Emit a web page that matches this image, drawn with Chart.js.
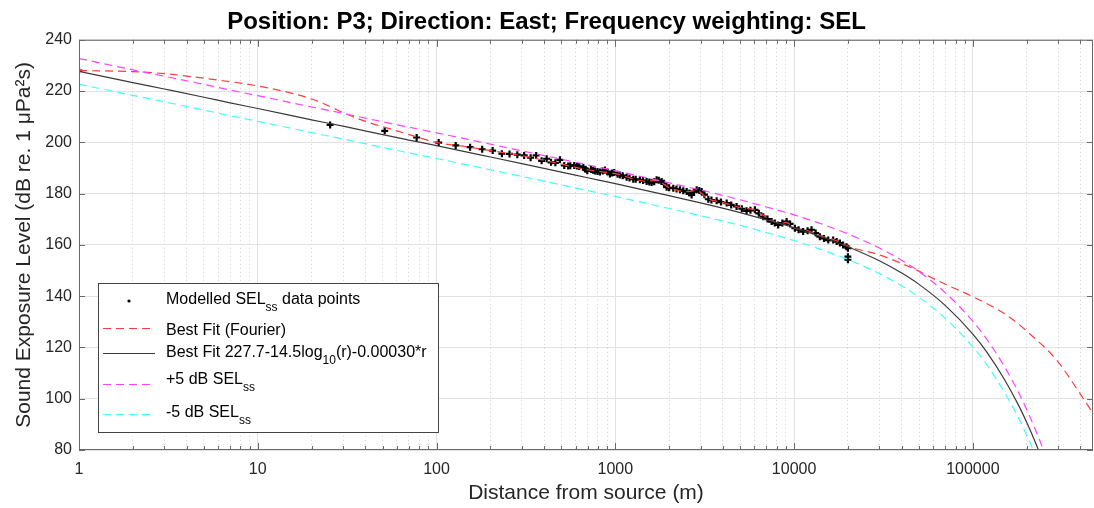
<!DOCTYPE html>
<html>
<head>
<meta charset="utf-8">
<script src="https://cdn.jsdelivr.net/npm/chart.js@4.4.1/dist/chart.umd.min.js"></script>
<style>
  html, body { margin: 0; padding: 0; background: #fff; overflow: hidden; }
  canvas { display: block; }
</style>
</head>
<body>
<canvas id="sel-chart" width="1094" height="508"></canvas>
<script>
// modelled SEL points (distance in m, SEL in dB)
const obsX = [1, 25.4, 51.3, 77.4, 102.8, 128, 154, 180, 206, 232, 256, 283, 309, 336, 361, 387, 413, 437, 462, 490,
  518, 545, 560, 589, 610, 628, 662, 680, 697, 731, 750, 770, 795, 820, 850, 875, 905, 933, 960, 986,
  1030, 1061, 1100, 1157, 1200, 1260, 1300, 1373, 1430, 1497, 1550, 1597, 1650, 1703, 1750, 1816, 1870,
  1937, 2000, 2110, 2200, 2300, 2400, 2507, 2600, 2673, 2750, 2851, 2950, 3040, 3150, 3313, 3450, 3689, 3900,
  4198, 4450, 4768, 5100, 5424, 5700, 6035, 6350, 6724, 7100, 7488, 7800, 8150, 8600, 9080, 9500, 10100,
  10600, 11240, 11900, 12520, 13200, 13940, 14700, 15530, 16550, 17300, 18040, 18800, 19660, 20000, 20000, 20000];
const obsY = [228.0, 206.8, 204.5, 201.9, 199.9, 198.8, 198.1, 197.3, 196.8, 195.6, 195.5, 195.2, 194.9, 194.0, 194.9, 192.8, 193.6, 192.2, 192.0, 193.2,
  191.0, 190.8, 190.9, 191.0, 190.8, 190.6, 190.2, 189.5, 188.9, 189.4, 189.1, 188.8, 188.6, 188.4, 188.8, 189.2, 188.4, 187.7, 188.0, 188.2,
  187.6, 187.3, 187.0, 186.4, 186.1, 185.6, 185.6, 185.4, 185.1, 184.7, 184.5, 184.3, 184.6, 185.4, 185.2, 184.7, 184.0,
  182.5, 182.3, 182.1, 181.8, 181.5, 181.1, 180.8, 180.2, 179.5, 180.8, 181.5, 181.2, 180.8, 179.6, 177.8, 177.5, 177.2, 176.7,
  176.3, 175.6, 175.0, 174.1, 173.3, 173.5, 173.7, 172.3, 171.0, 170.1, 169.1, 168.5, 167.8, 168.5, 169.1, 168.2, 166.5,
  165.9, 165.2, 165.5, 165.9, 164.6, 163.2, 162.5, 161.9, 161.9, 161.3, 160.7, 160.0, 159.3, 158.7, 155.4, 154.2];

// Fourier fit
const fourierX = [1, 2, 3, 5, 10, 15, 20, 25, 30, 40, 60, 100, 150, 200, 300, 500, 700, 1000, 1500, 1700, 2000, 2500, 2850,
  3300, 4000, 5000, 6000, 7500, 8500, 9000, 10000, 12000, 14000, 17000, 20000, 30000, 46000, 65000, 100000, 154000,
  217000, 294000, 397000, 470000];
const fourierY = [228.0, 227.6, 226.8, 225.0, 222.0, 219.4, 216.9, 214.2, 211.6, 208.2, 204.5, 200.0, 198.2, 196.8, 194.8, 191.5, 189.3, 187.8, 184.8, 185.2, 182.3, 180.8, 181.2,
  178.0, 176.5, 174.6, 173.6, 169.5, 168.3, 168.8, 166.6, 165.5, 163.5, 161.8, 159.5, 156.1, 150.9, 145.7, 139.8, 132.7,
  124.2, 115.1, 102.1, 94.3];

// log fit and the +/-5 dB bands
const fitX = [1, 2, 3, 5, 7, 10, 20, 30, 50, 70, 100, 200, 300, 500, 700, 1000, 2000, 3000, 5000, 7000, 10000, 15000,
  20000, 30000, 40000, 50000, 70000, 100000, 120000, 150000, 180000, 200000, 220000, 250000, 300000];
const fitMid = [227.7, 223.3, 220.8, 217.6, 215.4, 213.2, 208.8, 206.3, 203.0, 200.9, 198.7, 194.3, 191.7, 188.4, 186.2, 183.9, 179.2, 176.4, 172.6, 169.8, 166.7, 162.6,
  159.3, 153.8, 149.0, 144.6, 136.4, 125.2, 118.1, 107.6, 97.5, 90.8, 84.2, 74.4, 58.3];
const fitPlus5 = [232.7, 228.3, 225.8, 222.6, 220.4, 218.2, 213.8, 211.3, 208.0, 205.9, 203.7, 199.3, 196.7, 193.4, 191.2, 188.9, 184.2, 181.4, 177.6, 174.8, 171.7, 167.6,
  164.3, 158.8, 154.0, 149.6, 141.4, 130.2, 123.1, 112.6, 102.5, 95.8, 89.2, 79.4, 63.3];
const fitMinus5 = [222.7, 218.3, 215.8, 212.6, 210.4, 208.2, 203.8, 201.3, 198.0, 195.9, 193.7, 189.3, 186.7, 183.4, 181.2, 178.9, 174.2, 171.4, 167.6, 164.8, 161.7, 157.6,
  154.3, 148.8, 144.0, 139.6, 131.4, 120.2, 113.1, 102.6, 92.5, 85.8, 79.2, 69.4, 53.3];

const xMin = 1, xMax = 470000;
const yMin = 80, yMax = 240, yStep = 20;

const FONT = "'Liberation Sans', Arial, Helvetica, sans-serif";
const RED = '#ff3c3c', MAG = '#ff40ff', CYAN = '#40ffff', DARK = '#3a3a3a';

function pts(xs, ys) {
  return xs.map((x, i) => ({ x: x, y: ys[i] }));
}
function mantissa(v) {
  return v / Math.pow(10, Math.floor(Math.log10(v) + 1e-9));
}
function isDecade(v) {
  return Math.abs(mantissa(v) - 1) < 1e-6;
}
function isWhole(v) {
  const m = mantissa(v);
  return Math.abs(m - Math.round(m)) < 1e-6;
}

// legend rows, subscripts kept as separate pieces
const keyRows = [
  { kind: 'point', parts: [['Modelled SEL'], ['ss', 'sub'], [' data points']], base: 21, lineY: 18 },
  { kind: 'line', color: RED, dash: [8, 5], parts: [['Best Fit (Fourier)']], base: 52, lineY: 45 },
  { kind: 'line', color: DARK, dash: [], parts: [['Best Fit 227.7-14.5log'], ['10', 'sub'], ['(r)-0.00030*r']], base: 74, lineY: 70 },
  { kind: 'line', color: MAG, dash: [8, 5], parts: [['+5 dB SEL'], ['ss', 'sub']], base: 101, lineY: 101 },
  { kind: 'line', color: CYAN, dash: [8, 5], parts: [['-5 dB SEL'], ['ss', 'sub']], base: 134, lineY: 131 }
];

const frameAndKey = {
  id: 'frameAndKey',
  // let the plot run to the right edge of the canvas, like the original
  afterLayout(chart) {
    const x = chart.scales.x, a = chart.chartArea;
    const want = chart.width - 1;
    if (a.right < want) {
      x.right = want;
      x.width = want - x.left;
      x.configure();
      a.right = want;
      a.width = want - a.left;
    }
  },
  afterDraw(chart) {
    const { ctx, chartArea: a, scales: { x, y } } = chart;
    ctx.save();
    ctx.strokeStyle = '#6a6a6a';
    ctx.lineWidth = 1;
    ctx.setLineDash([]);
    // inward ticks
    ctx.beginPath();
    x.ticks.forEach(t => {
      const px = Math.round(x.getPixelForValue(t.value)) + 0.5;
      const len = isDecade(t.value) ? 7 : 4;
      ctx.moveTo(px, a.bottom); ctx.lineTo(px, a.bottom - len);
      ctx.moveTo(px, a.top); ctx.lineTo(px, a.top + len);
    });
    y.ticks.forEach(t => {
      const py = Math.round(y.getPixelForValue(t.value)) + 0.5;
      ctx.moveTo(a.left, py); ctx.lineTo(a.left + 6, py);
      ctx.moveTo(a.right, py); ctx.lineTo(a.right - 6, py);
    });
    ctx.stroke();
    ctx.strokeRect(a.left + 0.5, a.top + 0.5, a.right - a.left - 1, a.bottom - a.top - 1);

    // legend box
    const bx = a.left + 19, by = 283, bw = 340, bh = 149;
    ctx.fillStyle = '#fff';
    ctx.fillRect(bx, by, bw, bh);
    ctx.strokeStyle = '#444';
    ctx.strokeRect(bx + 0.5, by + 0.5, bw, bh);
    keyRows.forEach(r => {
      if (r.kind === 'point') {
        ctx.fillStyle = '#000';
        ctx.beginPath();
        ctx.arc(bx + 31, by + r.lineY, 1.6, 0, Math.PI * 2);
        ctx.fill();
      } else {
        ctx.strokeStyle = r.color;
        ctx.lineWidth = 1.2;
        ctx.setLineDash(r.dash);
        ctx.beginPath();
        ctx.moveTo(bx + 5, by + r.lineY + 0.5); ctx.lineTo(bx + 57, by + r.lineY + 0.5);
        ctx.stroke();
        ctx.setLineDash([]);
      }
      let tx = bx + 68;
      ctx.fillStyle = '#000';
      ctx.textBaseline = 'alphabetic';
      ctx.textAlign = 'left';
      r.parts.forEach(p => {
        const sub = p[1] === 'sub';
        ctx.font = (sub ? '12px ' : '16px ') + FONT;
        ctx.fillText(p[0], tx, by + r.base + (sub ? 7 : 0));
        tx += ctx.measureText(p[0]).width;
      });
    });
    ctx.restore();
  }
};

const chartElement = document.getElementById('sel-chart');
const selChart = new Chart(chartElement, {
  type: 'line',
  data: {
    datasets: [
      {
        label: 'Modelled SEL data points',
        data: pts(obsX, obsY),
        showLine: false,
        pointStyle: 'cross',
        pointRadius: 3.5,
        pointBorderWidth: 2.2,
        borderColor: '#000',
        backgroundColor: '#000',
        order: 5
      },
      {
        label: 'Best Fit (Fourier)',
        data: pts(fourierX, fourierY),
        borderColor: RED,
        borderWidth: 1.2,
        borderDash: [8, 5],
        pointRadius: 0,
        cubicInterpolationMode: 'monotone',
        order: 4
      },
      {
        label: 'Best Fit',
        data: pts(fitX, fitMid),
        borderColor: DARK,
        borderWidth: 1.2,
        pointRadius: 0,
        cubicInterpolationMode: 'monotone',
        order: 3
      },
      {
        label: '+5 dB',
        data: pts(fitX, fitPlus5),
        borderColor: MAG,
        borderWidth: 1.2,
        borderDash: [8, 5],
        pointRadius: 0,
        cubicInterpolationMode: 'monotone',
        order: 2
      },
      {
        label: '-5 dB',
        data: pts(fitX, fitMinus5),
        borderColor: CYAN,
        borderWidth: 1.2,
        borderDash: [8, 5],
        pointRadius: 0,
        cubicInterpolationMode: 'monotone',
        order: 1
      }
    ]
  },
  options: {
    responsive: false,
    animation: false,
    layout: { padding: { left: 0, right: 1, top: 0, bottom: 0 } },
    plugins: {
      legend: { display: false },
      tooltip: { enabled: false },
      title: {
        display: true,
        text: 'Position: P3; Direction: East; Frequency weighting: SEL',
        color: '#000',
        font: { family: FONT, size: 24, weight: 'bold' },
        padding: { top: 8, bottom: 3 }
      }
    },
    scales: {
      x: {
        type: 'logarithmic',
        position: 'bottom',
        min: xMin,
        max: xMax,
        afterBuildTicks: (scale) => {
          scale.ticks = scale.ticks.filter(t => isWhole(t.value));
        },
        afterFit: (scale) => { scale.height = 58; },
        grid: {
          drawTicks: true,
          tickLength: 10,
          tickColor: 'rgba(0,0,0,0)',
          color: (c) => (c.tick && isDecade(c.tick.value)) ? '#e2e2e2' : '#cfcfcf'
        },
        border: {
          display: false,
          dash: (c) => (c.type === 'tick' && c.tick && !isDecade(c.tick.value)) ? [1, 3] : []
        },
        ticks: {
          autoSkip: false,
          maxRotation: 0,
          padding: 0,
          color: '#262626',
          font: { family: FONT, size: 16 },
          callback: (v) => isDecade(v) ? String(v) : ''
        },
        title: {
          display: true,
          text: 'Distance from source (m)',
          color: '#262626',
          font: { family: FONT, size: 21 },
          padding: { top: 0, bottom: 2 }
        }
      },
      y: {
        min: yMin,
        max: yMax,
        afterFit: (scale) => { scale.width = 79; },
        grid: { drawTicks: false, color: '#e2e2e2' },
        border: { display: false },
        ticks: {
          stepSize: yStep,
          padding: 7,
          color: '#262626',
          font: { family: FONT, size: 16 }
        },
        title: {
          display: true,
          text: 'Sound Exposure Level (dB re. 1 \u03bcPa\u00b2s)',
          color: '#262626',
          font: { family: FONT, size: 21 },
          padding: { top: 12, bottom: 0 }
        }
      }
    }
  },
  plugins: [frameAndKey]
});
</script>
</body>
</html>
